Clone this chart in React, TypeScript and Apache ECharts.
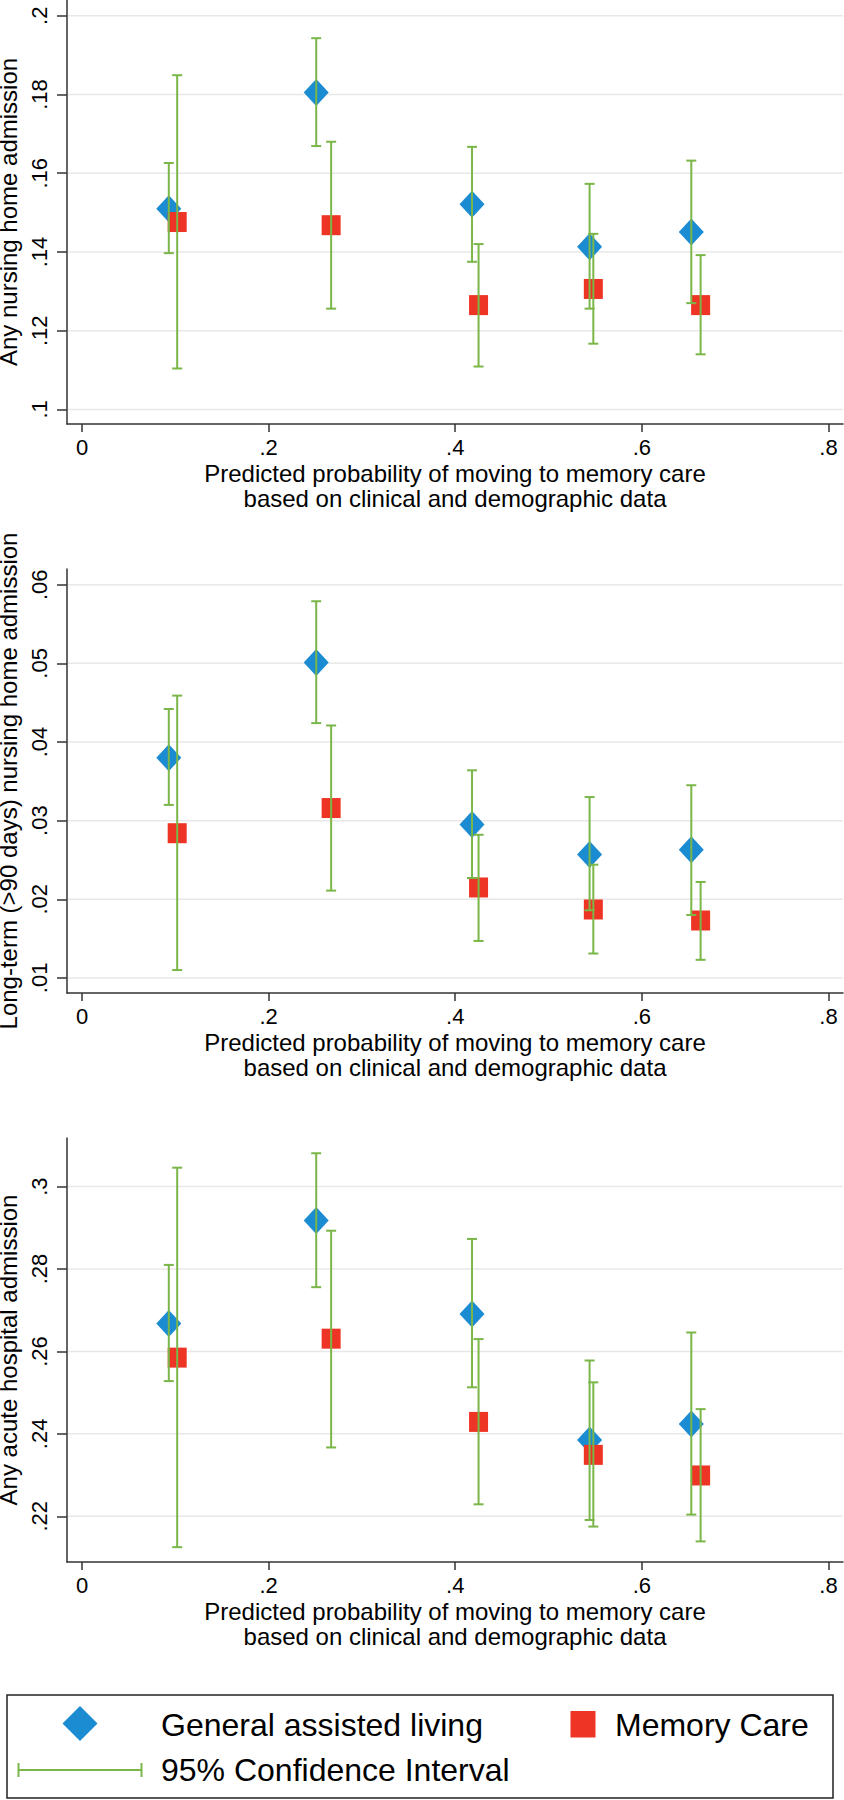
import React, { useEffect, useRef } from "react";
import * as echarts from "echarts";

// x positions (predicted probability) for each group
const xGAL = [0.093, 0.251, 0.418, 0.544, 0.653];
const xMC = [0.102, 0.267, 0.425, 0.548, 0.663];

// Panel 1: Any nursing home admission
const gal1 = [0.151, 0.1805, 0.1521, 0.1413, 0.1451];
const gal1Lo = [0.1397, 0.1669, 0.1375, 0.1256, 0.127];
const gal1Hi = [0.1626, 0.1943, 0.1667, 0.1573, 0.1632];
const mc1 = [0.1476, 0.1468, 0.1265, 0.1306, 0.1265];
const mc1Lo = [0.1104, 0.1256, 0.1109, 0.1167, 0.114];
const mc1Hi = [0.1849, 0.168, 0.142, 0.1446, 0.1392];

// Panel 2: Long-term (>90 days) nursing home admission
const gal2 = [0.038, 0.0501, 0.0295, 0.0257, 0.0263];
const gal2Lo = [0.032, 0.0424, 0.0227, 0.0186, 0.018];
const gal2Hi = [0.0442, 0.0579, 0.0364, 0.033, 0.0345];
const mc2 = [0.0284, 0.0316, 0.0215, 0.0187, 0.0173];
const mc2Lo = [0.011, 0.0211, 0.0147, 0.0131, 0.0123];
const mc2Hi = [0.0459, 0.0421, 0.0282, 0.0244, 0.0222];

// Panel 3: Any acute hospital admission
const gal3 = [0.2668, 0.2918, 0.2691, 0.2385, 0.2424];
const gal3Lo = [0.2528, 0.2756, 0.2513, 0.2191, 0.2204];
const gal3Hi = [0.281, 0.3081, 0.2873, 0.2578, 0.2646];
const mc3 = [0.2585, 0.2631, 0.2429, 0.2349, 0.2299];
const mc3Lo = [0.2125, 0.2367, 0.2229, 0.2175, 0.2139];
const mc3Hi = [0.3046, 0.2893, 0.263, 0.2525, 0.246];

// Tick labels
const xTicks = [0, 0.2, 0.4, 0.6, 0.8];
const yTicks1 = [0.1, 0.12, 0.14, 0.16, 0.18, 0.2];
const yTicks2 = [0.01, 0.02, 0.03, 0.04, 0.05, 0.06];
const yTicks3 = [0.22, 0.24, 0.26, 0.28, 0.3];

const yTitles = [
  "Any nursing home admission",
  "Long-term (>90 days) nursing home admission",
  "Any acute hospital admission",
];
const xTitle =
  "Predicted probability of moving to memory care\nbased on clinical and demographic data";
const legendNames = ["General assisted living", "Memory Care", "95% Confidence Interval"];

const BLUE = "#1b8bd2";
const RED = "#ee3424";
const GREEN = "#7ab648";
const AXIS = "#333333";
const GRID = "#e8e8e8";
const FONT = "'Liberation Sans', Arial, Helvetica, sans-serif";

const fmt = (v: number) => {
  if (v === 0) return "0";
  const s = String(+v.toFixed(3));
  return s.replace(/^0\./, ".");
};

export default function App() {
  const ref = useRef<HTMLDivElement>(null);
  useEffect(() => {
    if (!ref.current) return;
    const chart = echarts.init(ref.current, undefined, { renderer: "svg" });

    const panels = [
      { gal: gal1, galLo: gal1Lo, galHi: gal1Hi, mc: mc1, mcLo: mc1Lo, mcHi: mc1Hi, ticks: yTicks1, min: 0.0963, max: 0.204, top: 0 },
      { gal: gal2, galLo: gal2Lo, galHi: gal2Hi, mc: mc2, mcLo: mc2Lo, mcHi: mc2Hi, ticks: yTicks2, min: 0.00808, max: 0.062, top: 569 },
      { gal: gal3, galLo: gal3Lo, galHi: gal3Hi, mc: mc3, mcLo: mc3Lo, mcHi: mc3Hi, ticks: yTicks3, min: 0.2089, max: 0.3118, top: 1138 },
    ];

    const grid: any[] = [];
    const xAxis: any[] = [];
    const yAxis: any[] = [];
    const series: any[] = [];

    panels.forEach((p, i) => {
      grid.push({ left: 67, width: 776, top: p.top, height: 424, containLabel: false, outerBoundsMode: "none" });
      xAxis.push({
        type: "value",
        gridIndex: i,
        min: -0.0161,
        max: 0.8156,
        axisLine: { show: true, onZero: false, lineStyle: { color: AXIS, width: 1.5 } },
        axisTick: { show: true, inside: false, length: 8, customValues: xTicks, lineStyle: { color: AXIS, width: 1.5 } },
        axisLabel: {
          customValues: xTicks,
          formatter: (v: number) => fmt(v),
          fontSize: 22,
          fontFamily: FONT,
          color: "#000",
          margin: 12,
        },
        splitLine: { show: false },
        name: xTitle,
        nameLocation: "middle",
        nameGap: 37,
        nameTextStyle: { fontSize: 24, fontFamily: FONT, color: "#000", lineHeight: 25 },
      });
      yAxis.push({
        type: "value",
        gridIndex: i,
        min: p.min,
        max: p.max,
        axisLine: { show: true, onZero: false, lineStyle: { color: AXIS, width: 1.5 } },
        axisTick: { show: true, inside: false, length: 10, customValues: p.ticks, lineStyle: { color: AXIS, width: 1.5 } },
        axisLabel: {
          customValues: p.ticks,
          formatter: (v: number) => fmt(v),
          rotate: 90,
          fontSize: 22,
          fontFamily: FONT,
          color: "#000",
          margin: 17,
        },
        splitLine: { show: false },
        name: yTitles[i],
        nameLocation: "middle",
        nameRotate: 90,
        nameGap: 41,
        nameTextStyle: { fontSize: 24, fontFamily: FONT, color: "#000", lineHeight: 24 },
      });

      // gridlines at tick values
      series.push({
        type: "custom",
        xAxisIndex: i,
        yAxisIndex: i,
        silent: true,
        z: 0,
        data: p.ticks.map((t) => [0, t]),
        renderItem: (params: any, api: any) => {
          const cs = params.coordSys;
          const pt = api.coord([0, api.value(1)]);
          return {
            type: "line",
            shape: { x1: cs.x + 1, y1: pt[1], x2: cs.x + cs.width, y2: pt[1] },
            style: { stroke: GRID, lineWidth: 1.5 },
          };
        },
      });

      series.push({
        type: "scatter",
        name: legendNames[0],
        xAxisIndex: i,
        yAxisIndex: i,
        z: 2,
        symbol: "diamond",
        symbolSize: [25, 27],
        itemStyle: { color: BLUE, opacity: 1 },
        data: xGAL.map((x, k) => [x, p.gal[k]]),
      });
      series.push({
        type: "scatter",
        name: legendNames[1],
        xAxisIndex: i,
        yAxisIndex: i,
        z: 3,
        symbol: "rect",
        symbolSize: [19, 20],
        itemStyle: { color: RED, opacity: 1 },
        data: xMC.map((x, k) => [x, p.mc[k]]),
      });

      const ciData = [
        ...xGAL.map((x, k) => [x, p.galLo[k], p.galHi[k]]),
        ...xMC.map((x, k) => [x, p.mcLo[k], p.mcHi[k]]),
      ];
      series.push({
        type: "custom",
        name: legendNames[2],
        xAxisIndex: i,
        yAxisIndex: i,
        z: 4,
        silent: true,
        encode: { x: 0, y: [1, 2] },
        data: ciData,
        renderItem: (params: any, api: any) => {
          const x = api.value(0);
          const lo = api.coord([x, api.value(1)]);
          const hi = api.coord([x, api.value(2)]);
          const hw = 5;
          const st = { stroke: GREEN, lineWidth: 2 };
          return {
            type: "group",
            children: [
              { type: "line", shape: { x1: lo[0], y1: lo[1], x2: hi[0], y2: hi[1] }, style: st },
              { type: "line", shape: { x1: lo[0] - hw, y1: lo[1], x2: lo[0] + hw, y2: lo[1] }, style: st },
              { type: "line", shape: { x1: hi[0] - hw, y1: hi[1], x2: hi[0] + hw, y2: hi[1] }, style: st },
            ],
          };
        },
      });
    });

    const legendFont = { fontSize: 32, fontFamily: FONT, fill: "#000" };
    const graphic: any[] = [
      {
        type: "rect",
        shape: { x: 7, y: 1695, width: 826, height: 103 },
        style: { fill: "#fff", stroke: "#222", lineWidth: 1.5 },
      },
      {
        type: "polygon",
        shape: { points: [[80, 1706], [97.5, 1723.5], [80, 1741], [62.5, 1723.5]] },
        style: { fill: BLUE },
      },
      {
        type: "text",
        x: 161,
        y: 1725,
        style: { text: legendNames[0], ...legendFont, verticalAlign: "middle", align: "left" },
      },
      {
        type: "rect",
        shape: { x: 570.5, y: 1711, width: 25, height: 26.5 },
        style: { fill: RED },
      },
      {
        type: "text",
        x: 615,
        y: 1725,
        style: { text: legendNames[1], ...legendFont, verticalAlign: "middle", align: "left" },
      },
      { type: "line", shape: { x1: 18.5, y1: 1770, x2: 141.5, y2: 1770 }, style: { stroke: GREEN, lineWidth: 2 } },
      { type: "line", shape: { x1: 18.5, y1: 1763, x2: 18.5, y2: 1777 }, style: { stroke: GREEN, lineWidth: 2 } },
      { type: "line", shape: { x1: 141.5, y1: 1763, x2: 141.5, y2: 1777 }, style: { stroke: GREEN, lineWidth: 2 } },
      {
        type: "text",
        x: 161,
        y: 1770,
        style: { text: legendNames[2], ...legendFont, verticalAlign: "middle", align: "left" },
      },
    ];

    chart.setOption({
      animation: false,
      backgroundColor: "#fff",
      textStyle: { fontFamily: FONT },
      grid,
      xAxis,
      yAxis,
      series,
      graphic,
    });
    return () => chart.dispose();
  }, []);

  return (
    <div
      ref={ref}
      style={{ position: "absolute", left: 0, top: 0, width: 844, height: 1800, background: "#fff" }}
    />
  );
}
